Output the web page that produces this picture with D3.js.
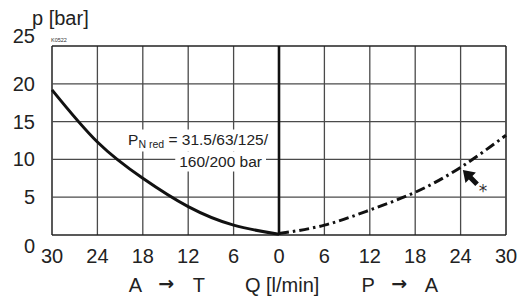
<!DOCTYPE html>
<html>
<head>
<meta charset="utf-8">
<script src="https://cdn.jsdelivr.net/npm/d3@7"></script>
<style>
  body { margin: 0; background: #fff; }
  svg { display: block; font-family: "Liberation Sans", Arial, sans-serif; }
</style>
</head>
<body>
<svg id="chart" width="519" height="298"></svg>
<script>
// p over Q, left side A -> T (solid), right side P -> A (dash-dot)
const xTicks = [-30, -24, -18, -12, -6, 0, 6, 12, 18, 24, 30];
const yTicks = [0, 5, 10, 15, 20, 25];
const flowAT = [-30, -24, -18, -12, -6, 0];
const presAT = [19.2, 12.3, 7.5, 3.75, 1.3, 0.1];
const flowPA = [0, 6, 12, 18, 24, 30];
const presPA = [0.2, 1.3, 3.3, 5.65, 8.95, 13.2];

const svg = d3.select("#chart");
const pLeft = 52, pRight = 506, pTop = 46, pBottom = 235;
const x = d3.scaleLinear().domain([-30, 30]).range([pLeft, pRight]);
const y = d3.scaleLinear().domain([0, 25]).range([pBottom, pTop]);

const grid = svg.append("g");
// vertical grid lines
grid.selectAll("line.v")
  .data(xTicks.filter(d => d !== 0))
  .enter().append("line")
  .attr("x1", d => x(d)).attr("x2", d => x(d))
  .attr("y1", pTop).attr("y2", pBottom)
  .attr("stroke", d => Math.abs(d) === 30 ? "#222" : "#4a4a4a")
  .attr("stroke-width", d => Math.abs(d) === 30 ? 1.5 : 1.3);
// horizontal grid lines
grid.selectAll("line.h")
  .data(yTicks)
  .enter().append("line")
  .attr("x1", pLeft).attr("x2", pRight)
  .attr("y1", d => y(d)).attr("y2", d => y(d))
  .attr("stroke", d => (d === 0 || d === 25) ? "#222" : "#4a4a4a")
  .attr("stroke-width", d => (d === 0 || d === 25) ? 1.5 : 1.3);

// label with white boxes covering the grid
const lab = svg.append("g");
const l1 = lab.append("text")
  .attr("x", 268).attr("y", 145)
  .attr("text-anchor", "end")
  .attr("font-size", 15.5).attr("fill", "#222");
l1.append("tspan").text("P");
l1.append("tspan").attr("font-size", 10.5).attr("dy", 3).text("N red");
l1.append("tspan").attr("dy", -3).text(" = 31.5/63/125/");
const l2 = lab.append("text")
  .attr("x", 262).attr("y", 167)
  .attr("text-anchor", "end")
  .attr("font-size", 15.5).attr("fill", "#222")
  .text("160/200 bar");
[l1, l2].forEach(t => {
  const b = t.node().getBBox();
  lab.insert("rect", "text")
    .attr("x", b.x - 4).attr("y", b.y - 1.5)
    .attr("width", b.width + 8).attr("height", b.height + 3)
    .attr("fill", "#fff");
});

// thick zero line
svg.append("line")
  .attr("x1", x(0)).attr("x2", x(0))
  .attr("y1", pTop).attr("y2", pBottom)
  .attr("stroke", "#111").attr("stroke-width", 2.6);

const line = d3.line()
  .x(d => x(d[0])).y(d => y(d[1]))
  .curve(d3.curveNatural);

svg.append("path")
  .attr("d", line(d3.zip(flowAT, presAT)))
  .attr("fill", "none").attr("stroke", "#111").attr("stroke-width", 3);

svg.append("path")
  .attr("d", line(d3.zip(flowPA, presPA)))
  .attr("fill", "none").attr("stroke", "#111").attr("stroke-width", 3)
  .attr("stroke-dasharray", "10,4,2.5,4");

// arrow marker near the curve (points up-left)
const ax = x(24.3), ay = y(8.6);
const arrowPts = [[0, 0], [13, 2.6], [9.6, 6], [16, 12.4], [12.4, 16], [6, 9.6], [2.6, 13]];
svg.append("path")
  .attr("d", "M" + arrowPts.map(p => [ax + p[0], ay + p[1]].join(",")).join("L") + "Z")
  .attr("fill", "#111");
svg.append("text")
  .attr("x", ax + 16).attr("y", ay + 27)
  .attr("font-family", "DejaVu Sans")
  .attr("font-size", 17).attr("fill", "#333")
  .text("*");

// y tick labels
svg.selectAll("text.yt")
  .data(yTicks)
  .enter().append("text")
  .attr("x", 35)
  .attr("y", d => y(d) + (d === 0 ? 11 : d === 25 ? -10.5 : 0))
  .attr("dy", "0.35em")
  .attr("text-anchor", "end")
  .attr("font-size", 20).attr("fill", "#222")
  .text(d => d);

// x tick labels
svg.selectAll("text.xt")
  .data(xTicks)
  .enter().append("text")
  .attr("x", d => x(d))
  .attr("y", 263)
  .attr("text-anchor", "middle")
  .attr("font-size", 20).attr("fill", "#222")
  .text(d => Math.abs(d));

svg.append("text")
  .attr("x", 32).attr("y", 25)
  .attr("font-size", 20).attr("fill", "#222")
  .text("p [bar]");

svg.append("text")
  .attr("x", 51).attr("y", 42)
  .attr("font-size", 5.5).attr("fill", "#333")
  .text("K0522");

const axisLabels = [
  { t: "A", v: -18.97 }, { t: "\u2192", v: -14.9, arrow: true }, { t: "T", v: -10.6 },
  { t: "Q [l/min]", v: -4.5, start: true },
  { t: "P", v: 11.8 }, { t: "\u2192", v: 15.9, arrow: true }, { t: "A", v: 20.15 }
];
svg.selectAll("text.al")
  .data(axisLabels)
  .enter().append("text")
  .attr("x", d => x(d.v))
  .attr("y", d => d.arrow ? 290 : 292)
  .attr("text-anchor", d => d.start ? "start" : "middle")
  .attr("font-family", d => d.arrow ? "DejaVu Sans" : null)
  .attr("font-weight", d => d.arrow ? "bold" : null)
  .attr("font-size", d => d.arrow ? 19 : 20).attr("fill", "#222")
  .text(d => d.t);
</script>
</body>
</html>
